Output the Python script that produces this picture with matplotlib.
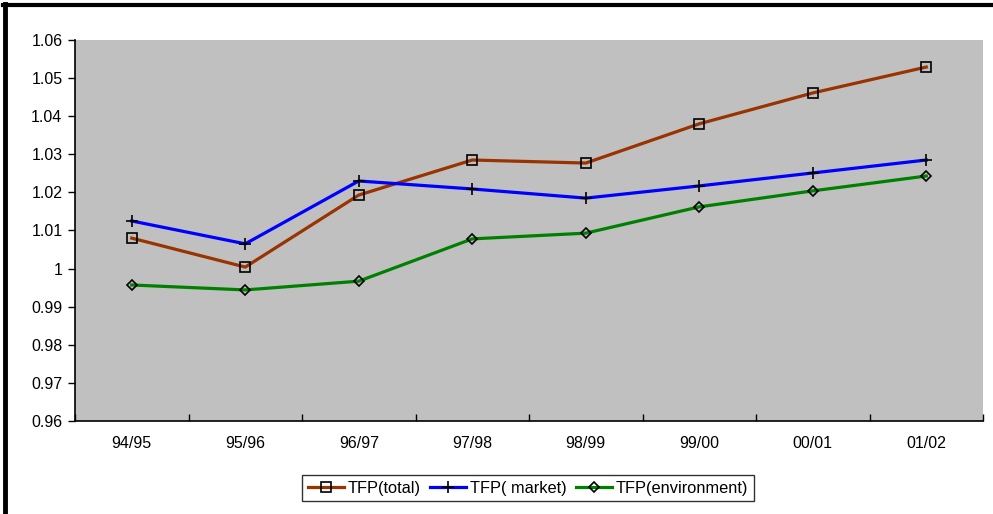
import numpy as np
import matplotlib
matplotlib.use('Agg')
import matplotlib.pyplot as plt
from matplotlib.lines import Line2D

years = ['94/95', '95/96', '96/97', '97/98', '98/99', '99/00', '00/01', '01/02']
tfp_total = [1.0080, 1.0004, 1.0193, 1.0285, 1.0277, 1.0380, 1.0461, 1.0529]
tfp_market = [1.0125, 1.0065, 1.0230, 1.0209, 1.0185, 1.0217, 1.0251, 1.0285]
tfp_env = [0.9957, 0.9944, 0.9967, 1.0078, 1.0093, 1.0162, 1.0204, 1.0243]
yticks = [0.96, 0.97, 0.98, 0.99, 1.0, 1.01, 1.02, 1.03, 1.04, 1.05, 1.06]
ytick_labels = ['0.96', '0.97', '0.98', '0.99', '1', '1.01', '1.02', '1.03', '1.04', '1.05', '1.06']

plt.rcParams['font.family'] = ['Liberation Sans', 'DejaVu Sans']

fig = plt.figure(figsize=(9.93, 5.14), dpi=100)
ax = fig.add_axes([75/993, 1 - 421/514, (983 - 75)/993, (421 - 40)/514])
ax.set_facecolor('#c0c0c0')

x = np.arange(len(years))
ax.plot(x, tfp_total, color='#993300', lw=2.3, marker='s', ms=7,
        mfc='none', mec='black', mew=1.2, label='TFP(total)')
ax.plot(x, tfp_market, color='#0000ff', lw=2.3, marker='+', ms=9,
        mec='black', mew=1.2, label='TFP( market)')
ax.plot(x, tfp_env, color='#008000', lw=2.3, marker='D', ms=5,
        mfc='none', mec='black', mew=1.2, label='TFP(environment)')

ax.set_xlim(-0.5, len(years) - 0.5)
ax.set_ylim(0.96, 1.06)
ax.set_yticks(yticks)
ax.set_yticklabels(ytick_labels)
ax.set_xticks(x)
ax.set_xticklabels(years)
ax.set_xticks(np.arange(-0.5, len(years)), minor=True)
ax.tick_params(axis='x', which='major', length=0, pad=10.5, labelsize=11.5)
ax.tick_params(axis='x', which='minor', direction='in', length=5, width=1)
ax.tick_params(axis='y', direction='out', length=5, width=1, labelsize=11.5, pad=4)

for side in ['top', 'right']:
    ax.spines[side].set_visible(False)
for side in ['left', 'bottom']:
    ax.spines[side].set_linewidth(1.2)

leg = fig.legend(loc='center', bbox_to_anchor=(528/993, 1 - 488/514), ncol=3,
                 fontsize=11.8, frameon=True, fancybox=False, edgecolor='black',
                 handlelength=2.2, handletextpad=0.2, columnspacing=0.6,
                 borderpad=0.35, borderaxespad=0)
leg.get_frame().set_linewidth(1.0)

# figure frame (left and top)
fig.add_artist(Line2D([5/993, 5/993], [0, 1 - 4/514], color='black', lw=3.5,
                      transform=fig.transFigure))
fig.add_artist(Line2D([3/993, 1], [1 - 4.5/514, 1 - 4.5/514], color='black', lw=3,
                      transform=fig.transFigure))

fig.savefig('out.png', dpi=100)
